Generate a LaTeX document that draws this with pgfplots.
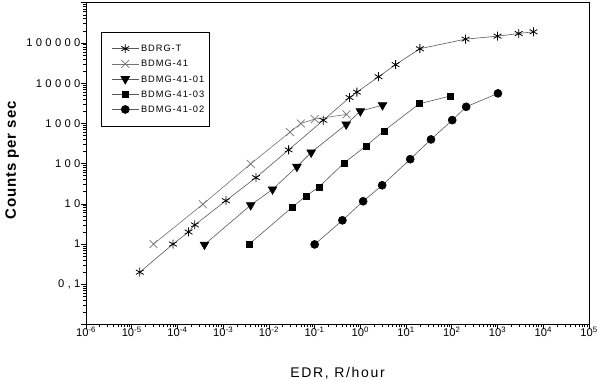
\documentclass[border=0pt]{standalone}
\usepackage{fontspec}
\setmainfont{Liberation Sans}
\newfontfamily\tickfont[LetterSpace=30]{Liberation Sans}
\newfontfamily\labfont[LetterSpace=12]{Liberation Sans}
\newfontfamily\ylabfont[LetterSpace=6]{Liberation Sans}
\newfontfamily\legfont[LetterSpace=10]{Liberation Sans}
\usepackage{pgfplots}
\pgfplotsset{compat=1.18}

\pgfplotstableread{
x y
1.5e-5 0.2
8e-5 1
1.75e-4 2
2.4e-4 3
1.15e-3 12
5.2e-3 45
0.027 220
0.155 1200
0.58 4400
0.84 6000
2.5 14500
5.9 29000
20 72000
200 125000
1000 148000
2900 172000
6100 190000
}\bdrgt

\pgfplotstableread{
x y
3e-5 1
3.6e-4 9.8
4e-3 99
0.029 610
0.05 1000
0.1 1280
0.5 1680
}\bdmgA

\pgfplotstableread{
x y
3.9e-4 0.97
4e-3 9.3
0.012 23
0.041 84
0.084 190
0.49 945
1.0 2020
3.05 2850
}\bdmgB

\pgfplotstableread{
x y
3.7e-3 1
0.033 8.4
0.065 15.8
0.125 26.4
0.44 104
1.34 277
3.3 655
19.4 3080
95 4840
}\bdmgC

\pgfplotstableread{
x y
0.1 0.98
0.405 3.9
1.15 11.6
3.0 29
12.3 129
35 400
102 1210
206 2590
1020 5590
}\bdmgD

\begin{document}
\begin{tikzpicture}
\useasboundingbox (-86pt,-57.5pt) rectangle (514pt,324.5pt);
\begin{axis}[
  at={(0,0)}, anchor=south west,
  scale only axis, width=503pt, height=321.7pt,
  xmode=log, ymode=log,
  xmin=1e-6, xmax=1e5, ymin=0.01, ymax=1e6,
  axis line style={line width=0.9pt},
  tick align=outside,
  xtick pos=bottom, ytick pos=left,
  major tick length=5pt, minor tick length=3pt,
  every tick/.style={black, line width=0.7pt},
  xtick={1e-6,1e-5,1e-4,1e-3,1e-2,1e-1,1,1e1,1e2,1e3,1e4,1e5},
  xticklabels={10\textsuperscript{-6},10\textsuperscript{-5},10\textsuperscript{-4},10\textsuperscript{-3},10\textsuperscript{-2},10\textsuperscript{-1},10\textsuperscript{0},10\textsuperscript{1},10\textsuperscript{2},10\textsuperscript{3},10\textsuperscript{4},10\textsuperscript{5}},
  minor xtick={2e-6,3e-6,4e-6,5e-6,6e-6,7e-6,8e-6,9e-6,
    2e-5,3e-5,4e-5,5e-5,6e-5,7e-5,8e-5,9e-5,
    2e-4,3e-4,4e-4,5e-4,6e-4,7e-4,8e-4,9e-4,
    2e-3,3e-3,4e-3,5e-3,6e-3,7e-3,8e-3,9e-3,
    2e-2,3e-2,4e-2,5e-2,6e-2,7e-2,8e-2,9e-2,
    0.2,0.3,0.4,0.5,0.6,0.7,0.8,0.9,
    2,3,4,5,6,7,8,9,
    20,30,40,50,60,70,80,90,
    200,300,400,500,600,700,800,900,
    2000,3000,4000,5000,6000,7000,8000,9000,
    20000,30000,40000,50000,60000,70000,80000,90000},
  ytick={1e-2,1e-1,1,1e1,1e2,1e3,1e4,1e5,1e6},
  yticklabels={,{0,1},1,10,100,1000,10000,100000,},
  minor ytick={0.02,0.03,0.04,0.05,0.06,0.07,0.08,0.09,
    0.2,0.3,0.4,0.5,0.6,0.7,0.8,0.9,
    2,3,4,5,6,7,8,9,
    20,30,40,50,60,70,80,90,
    200,300,400,500,600,700,800,900,
    2000,3000,4000,5000,6000,7000,8000,9000,
    20000,30000,40000,50000,60000,70000,80000,90000,
    200000,300000,400000,500000,600000,700000,800000,900000},
  xticklabel style={font=\fontsize{11.2}{12}\selectfont, yshift=6pt},
  yticklabel style={font=\tickfont\fontsize{11.2}{12}\selectfont, xshift=3pt},
  xlabel={EDR, R/hour},
  ylabel={\bfseries Counts per sec},
  xlabel style={font=\labfont\fontsize{14}{16}\selectfont, at={(axis description cs:0.5,0)}, anchor=base, yshift=-53.5pt},
  ylabel style={font=\ylabfont\fontsize{15}{17}\selectfont, at={(axis description cs:0,0.51)}, anchor=base, yshift=70pt},
  legend style={at={(0.03,0.91)}, anchor=north west, draw=black, line width=0.8pt,
    font=\legfont\fontsize{9.3}{10}\selectfont, inner xsep=3pt, inner ysep=10.5pt,
    row sep=3.2pt, nodes={inner sep=2pt, text height=7pt, text depth=1pt}},
  legend cell align=left,
  legend image code/.code={\path (0pt,0pt); \draw[mark repeat=2,mark phase=2,#1] plot coordinates {(7pt,0pt) (20.5pt,0pt) (34pt,0pt)};},
  every axis plot/.append style={line width=0.6pt},
]
\addplot[black!65, mark=asterisk, mark size=4.5pt, mark options={black, line width=0.8pt}] table[x=x,y=y] {\bdrgt};
\addlegendentry{BDRG-T}
\addplot[black!55, mark=x, mark size=5.5pt, mark options={black!55, line width=0.7pt}] table[x=x,y=y] {\bdmgA};
\addlegendentry{BDMG-41}
\addplot[black!65, mark=triangle*, mark size=5pt, mark options={black, fill=black, rotate=180}] table[x=x,y=y] {\bdmgB};
\addlegendentry{BDMG-41-01}
\addplot[black!65, mark=square*, mark size=3pt, mark options={black, fill=black}] table[x=x,y=y] {\bdmgC};
\addlegendentry{BDMG-41-03}
\addplot[black!65, mark=*, mark size=4pt, mark options={black, fill=black}] table[x=x,y=y] {\bdmgD};
\addlegendentry{BDMG-41-02}
\end{axis}
\end{tikzpicture}
\end{document}
